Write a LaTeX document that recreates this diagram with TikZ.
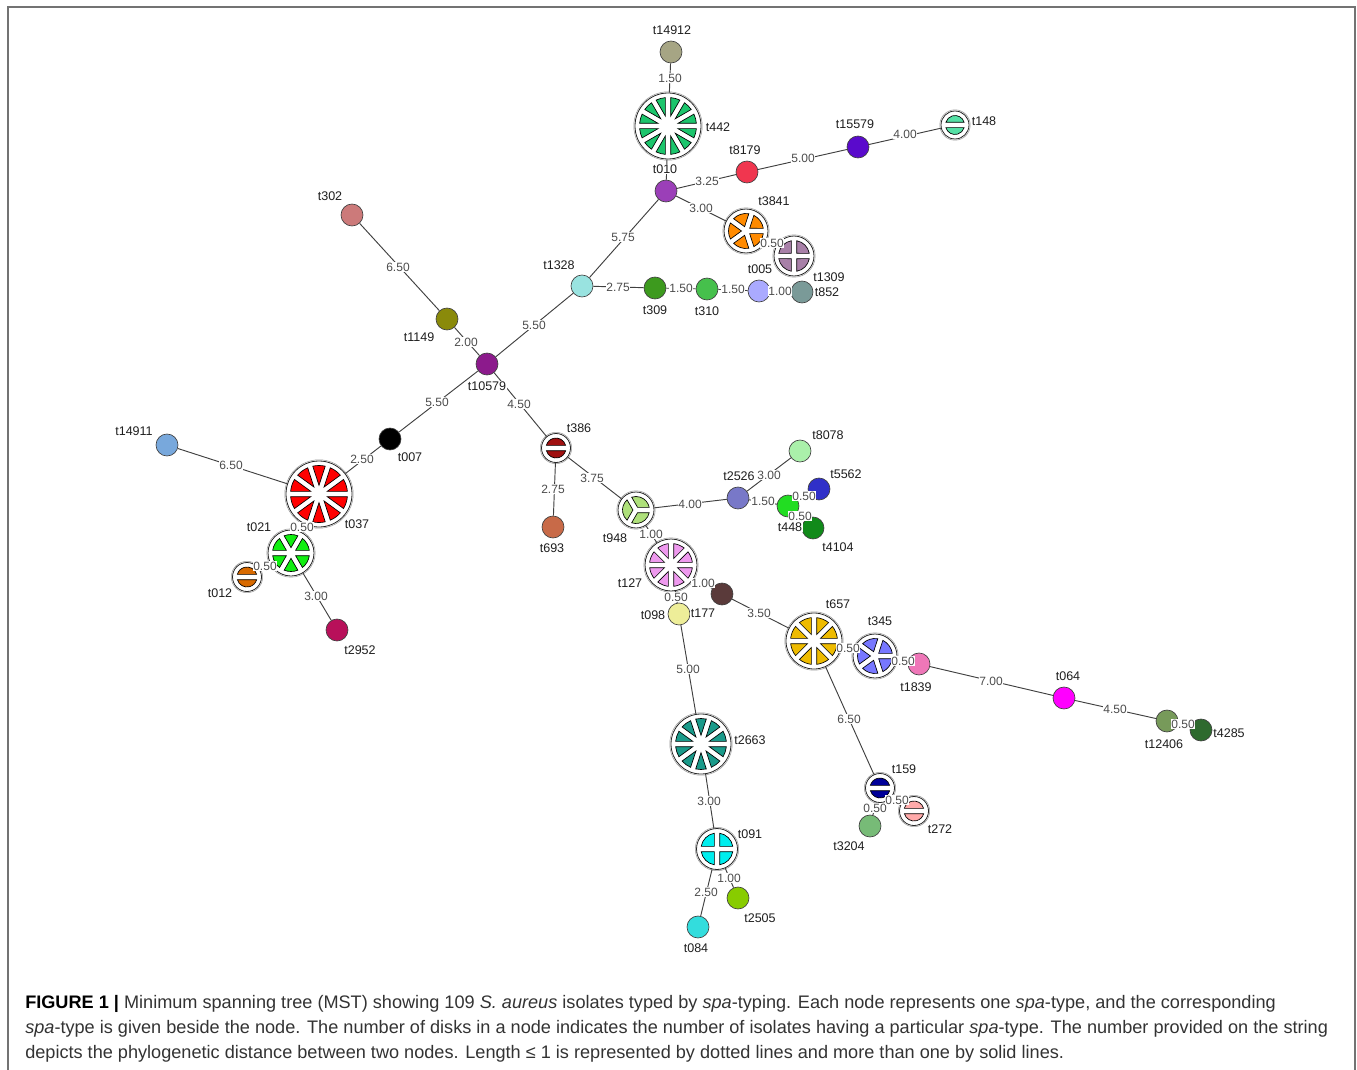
\documentclass[tikz,border=0pt]{standalone}
\usepackage{fontspec}
\setmainfont{Liberation Sans}
\definecolor{c14912}{HTML}{A6A584}
\definecolor{c442}{HTML}{1CC56C}
\definecolor{c010}{HTML}{9B3FB8}
\definecolor{c8179}{HTML}{F0364F}
\definecolor{c15579}{HTML}{5A0ACC}
\definecolor{c148}{HTML}{55E0A5}
\definecolor{c3841}{HTML}{FF8A00}
\definecolor{c1309}{HTML}{A880A8}
\definecolor{c005}{HTML}{AAAAFF}
\definecolor{c852}{HTML}{7A9A98}
\definecolor{c1328}{HTML}{99E3E0}
\definecolor{c309}{HTML}{3D9A1E}
\definecolor{c310}{HTML}{46C04C}
\definecolor{c302}{HTML}{CC7A7A}
\definecolor{c1149}{HTML}{8A8A0A}
\definecolor{c10579}{HTML}{8C1A8C}
\definecolor{c007}{HTML}{000000}
\definecolor{c14911}{HTML}{78A8DC}
\definecolor{c037}{HTML}{FF0000}
\definecolor{c021}{HTML}{11EE11}
\definecolor{c012}{HTML}{D86A00}
\definecolor{c2952}{HTML}{B8105A}
\definecolor{c386}{HTML}{A01010}
\definecolor{c693}{HTML}{C86A48}
\definecolor{c948}{HTML}{AEE07A}
\definecolor{c2526}{HTML}{7878C8}
\definecolor{c8078}{HTML}{AAF0AA}
\definecolor{c5562}{HTML}{3030C8}
\definecolor{c448}{HTML}{22DD22}
\definecolor{c4104}{HTML}{118A1A}
\definecolor{c127}{HTML}{EE99EE}
\definecolor{c098}{HTML}{EEEE99}
\definecolor{cbrown}{HTML}{5A3A3A}
\definecolor{c657}{HTML}{EEBB00}
\definecolor{c345}{HTML}{7777FF}
\definecolor{c1839}{HTML}{EE77B8}
\definecolor{c064}{HTML}{FF00FF}
\definecolor{c12406}{HTML}{779A5A}
\definecolor{c4285}{HTML}{2E6A2E}
\definecolor{c2663}{HTML}{1A9A8A}
\definecolor{c091}{HTML}{00EEEE}
\definecolor{c2505}{HTML}{88CC00}
\definecolor{c084}{HTML}{33DDDD}
\definecolor{c159}{HTML}{000099}
\definecolor{c272}{HTML}{FFAAAA}
\definecolor{c3204}{HTML}{77BB77}
\tikzset{
  snode/.style={circle, draw=black!75, line width=0.5pt, inner sep=0pt, minimum size=16.5pt},
  bignode/.style={circle, draw=black!85, fill=white, line width=0.6pt, inner sep=0pt},
  edge/.style={draw=black!75, line width=0.7pt},
  elabel/.style={font=\fontsize{9}{10}\selectfont, text=black!70, fill=white, inner sep=0.4pt},
  nlabel/.style={font=\fontsize{9.4}{10}\selectfont, text=black!88, fill=white, inner sep=0.4pt},
  capt/.style={font=\fontsize{13.6}{16}\selectfont, text=black!80, inner sep=0pt, anchor=base west}
}
\newcommand{\spkd}{2.0}
\newcommand{\SecNode}[6]{%
  \node[bignode, minimum size={2*#4*0.75pt}] (#1) at (#2,#3) {};
  \draw[black!40, line width=0.4pt] (#1.center) circle[radius={(#4+1.2)*0.75pt}];
  \pgfmathsetmacro{\sStep}{360/#5}
  \pgfmathsetmacro{\sRo}{(#4-4.5)*0.75}
  \pgfmathsetmacro{\sRi}{\spkd/sin(\sStep/2)}
  \pgfmathsetmacro{\sAo}{asin(\spkd/\sRo)}
  \begin{scope}[shift={(#1.center)}]
  \foreach \k in {1,...,#5}{
    \pgfmathsetmacro{\sTa}{(\k-1)*\sStep+\sAo}
    \pgfmathsetmacro{\sTb}{\k*\sStep-\sAo}
    \pgfmathsetmacro{\sTm}{(\k-0.5)*\sStep}
    \filldraw[fill=#6, draw=black, line width=0.5pt] (\sTm:\sRi pt) -- (\sTa:\sRo pt) arc[start angle=\sTa, end angle=\sTb, radius=\sRo pt] -- cycle;
  }
  \end{scope}
}
\newcommand{\Edge}[5]{\draw[edge] (#1) -- (#2);
  \node[elabel] at (#4,#5) {#3};}
\begin{document}
\begin{tikzpicture}[x=0.75pt,y=-0.75pt]
\useasboundingbox (0,0) rectangle (1357,1070);
\fill[white] (0,0) rectangle (1357,1070);
\draw[black!55, line width=1pt] (8,1070) -- (8,7) -- (1355,7) -- (1355,1070);

% simple nodes
\node[snode, fill=c14912] (n14912) at (671,52) {};
\node[snode, fill=c010] (n010) at (666,191) {};
\node[snode, fill=c8179] (n8179) at (747,172) {};
\node[snode, fill=c15579] (n15579) at (858,147) {};
\node[snode, fill=c005] (n005) at (759,291) {};
\node[snode, fill=c852] (n852) at (802,292) {};
\node[snode, fill=c1328] (n1328) at (582,286) {};
\node[snode, fill=c309] (n309) at (655,288) {};
\node[snode, fill=c310] (n310) at (707,289) {};
\node[snode, fill=c302] (n302) at (352,215) {};
\node[snode, fill=c1149] (n1149) at (447,319) {};
\node[snode, fill=c10579] (n10579) at (487,364) {};
\node[snode, fill=c007] (n007) at (390,439) {};
\node[snode, fill=c14911] (n14911) at (167,445) {};
\node[snode, fill=c2952] (n2952) at (337,630) {};
\node[snode, fill=c693] (n693) at (553,527) {};
\node[snode, fill=c2526] (n2526) at (738,498) {};
\node[snode, fill=c8078] (n8078) at (800,451) {};
\node[snode, fill=c5562] (n5562) at (819,489) {};
\node[snode, fill=c4104] (n4104) at (813,528) {};
\node[snode, fill=c448] (n448) at (788,506) {};
\node[snode, fill=c098] (n098) at (679,614) {};
\node[snode, fill=cbrown] (nbrown) at (722,594) {};
\node[snode, fill=c1839] (n1839) at (919,664) {};
\node[snode, fill=c064] (n064) at (1064,698) {};
\node[snode, fill=c12406] (n12406) at (1167,721) {};
\node[snode, fill=c4285] (n4285) at (1201,730) {};
\node[snode, fill=c2505] (n2505) at (738,898) {};
\node[snode, fill=c084] (n084) at (698,927) {};
\node[snode, fill=c3204] (n3204) at (870,826) {};

% sectored nodes
\SecNode{n442}{668}{126}{33}{12}{c442}
\SecNode{n148}{955}{125}{14}{2}{c148}
\SecNode{n3841}{746}{231}{22}{5}{c3841}
\SecNode{n1309}{794}{256}{20}{4}{c1309}
\SecNode{n037}{319}{494}{33}{10}{c037}
\SecNode{n021}{291}{553}{23}{6}{c021}
\SecNode{n012}{247}{577}{14.5}{2}{c012}
\SecNode{n386}{556}{448}{14.5}{2}{c386}
\SecNode{n948}{636}{510}{18}{3}{c948}
\SecNode{n127}{671}{565}{26}{8}{c127}
\SecNode{n657}{814}{641}{28}{8}{c657}
\SecNode{n345}{875}{656}{22}{5}{c345}
\SecNode{n2663}{701}{744}{30}{10}{c2663}
\SecNode{n091}{717}{849}{20.5}{4}{c091}
\SecNode{n159}{880}{788}{14.5}{2}{c159}
\SecNode{n272}{914}{811}{14.5}{2}{c272}

% edges with distances
\Edge{n14912}{n442}{1.50}{670}{78}
\draw[edge] (n442) -- (n010);
\Edge{n010}{n8179}{3.25}{707}{181}
\Edge{n8179}{n15579}{5.00}{803}{158}
\Edge{n15579}{n148}{4.00}{905}{134}
\Edge{n010}{n3841}{3.00}{701}{208}
\Edge{n3841}{n1309}{0.50}{772}{243}
\Edge{n010}{n1328}{5.75}{623}{237}
\Edge{n1328}{n309}{2.75}{618}{287}
\Edge{n309}{n310}{1.50}{681}{288}
\Edge{n310}{n005}{1.50}{733}{289}
\Edge{n005}{n852}{1.00}{780}{291}
\Edge{n1328}{n10579}{5.50}{534}{325}
\Edge{n302}{n1149}{6.50}{398}{267}
\Edge{n1149}{n10579}{2.00}{466}{342}
\Edge{n10579}{n007}{5.50}{437}{402}
\Edge{n007}{n037}{2.50}{362}{459}
\Edge{n14911}{n037}{6.50}{231}{465}
\Edge{n037}{n021}{0.50}{302}{527}
\Edge{n021}{n012}{0.50}{265}{566}
\Edge{n021}{n2952}{3.00}{316}{596}
\Edge{n10579}{n386}{4.50}{519}{404}
\Edge{n386}{n693}{2.75}{553}{489}
\Edge{n386}{n948}{3.75}{592}{478}
\Edge{n948}{n2526}{4.00}{690}{504}
\Edge{n2526}{n8078}{3.00}{769}{475}
\Edge{n2526}{n448}{1.50}{763}{501}
\Edge{n448}{n5562}{0.50}{804}{496}
\Edge{n448}{n4104}{0.50}{800}{516}
\Edge{n948}{n127}{1.00}{651}{534}
\Edge{n127}{n098}{0.50}{676}{597}
\Edge{n127}{nbrown}{1.00}{703}{583}
\Edge{nbrown}{n657}{3.50}{759}{613}
\Edge{n657}{n345}{0.50}{848}{648}
\Edge{n345}{n1839}{0.50}{903}{661}
\Edge{n1839}{n064}{7.00}{991}{681}
\Edge{n064}{n12406}{4.50}{1115}{709}
\Edge{n12406}{n4285}{0.50}{1183}{724}
\Edge{n098}{n2663}{5.00}{688}{669}
\Edge{n657}{n159}{6.50}{849}{719}
\Edge{n159}{n3204}{0.50}{875}{808}
\Edge{n159}{n272}{0.50}{897}{800}
\Edge{n2663}{n091}{3.00}{709}{801}
\Edge{n091}{n2505}{1.00}{729}{878}
\Edge{n091}{n084}{2.50}{706}{892}

% node labels
\node[nlabel] (l14912) at (672,30) {t14912};
\node[nlabel] (l442) at (718,127) {t442};
\node[nlabel] (l010) at (665,169) {t010};
\node[nlabel] (l8179) at (745,150) {t8179};
\node[nlabel] (l15579) at (855,124) {t15579};
\node[nlabel] (l148) at (984,121) {t148};
\node[nlabel] (l3841) at (774,201) {t3841};
\node[nlabel] (l005) at (760,269) {t005};
\node[nlabel] (l1309) at (829,277) {t1309};
\node[nlabel] (l852) at (827,292) {t852};
\node[nlabel] (l1328) at (559,265) {t1328};
\node[nlabel] (l309) at (655,310) {t309};
\node[nlabel] (l310) at (707,311) {t310};
\node[nlabel] (l302) at (330,196) {t302};
\node[nlabel] (l1149) at (419,337) {t1149};
\node[nlabel] (l10579) at (487,386) {t10579};
\node[nlabel] (l007) at (410,457) {t007};
\node[nlabel] (l14911) at (134,431) {t14911};
\node[nlabel] (l037) at (357,524) {t037};
\node[nlabel] (l021) at (259,527) {t021};
\node[nlabel] (l012) at (220,593) {t012};
\node[nlabel] (l2952) at (360,650) {t2952};
\node[nlabel] (l386) at (579,428) {t386};
\node[nlabel] (l693) at (552,548) {t693};
\node[nlabel] (l948) at (615,538) {t948};
\node[nlabel] (l2526) at (739,476) {t2526};
\node[nlabel] (l8078) at (828,435) {t8078};
\node[nlabel] (l5562) at (846,474) {t5562};
\node[nlabel] (l448) at (790,527) {t448};
\node[nlabel] (l4104) at (838,547) {t4104};
\node[nlabel] (l127) at (630,583) {t127};
\node[nlabel] (l098) at (653,615) {t098};
\node[nlabel] (l177) at (703,613) {t177};
\node[nlabel] (l657) at (838,604) {t657};
\node[nlabel] (l345) at (880,621) {t345};
\node[nlabel] (l1839) at (916,687) {t1839};
\node[nlabel] (l064) at (1068,676) {t064};
\node[nlabel] (l12406) at (1164,744) {t12406};
\node[nlabel] (l4285) at (1229,733) {t4285};
\node[nlabel] (l2663) at (750,740) {t2663};
\node[nlabel] (l091) at (750,834) {t091};
\node[nlabel] (l2505) at (760,918) {t2505};
\node[nlabel] (l084) at (696,948) {t084};
\node[nlabel] (l159) at (904,769) {t159};
\node[nlabel] (l272) at (940,829) {t272};
\node[nlabel] (l3204) at (849,846) {t3204};

% caption
\node[capt] (cap1) at (25,1008) {\textbf{\color{black}FIGURE 1 |} Minimum spanning tree (MST) showing 109 \textit{S. aureus} isolates typed by \textit{spa}-typing. Each node represents one \textit{spa}-type, and the corresponding};
\node[capt] (cap2) at (25,1033) {\textit{spa}-type is given beside the node. The number of disks in a node indicates the number of isolates having a particular \textit{spa}-type. The number provided on the string};
\node[capt] (cap3) at (25,1058) {depicts the phylogenetic distance between two nodes. Length ≤ 1 is represented by dotted lines and more than one by solid lines.};
\end{tikzpicture}
\end{document}
